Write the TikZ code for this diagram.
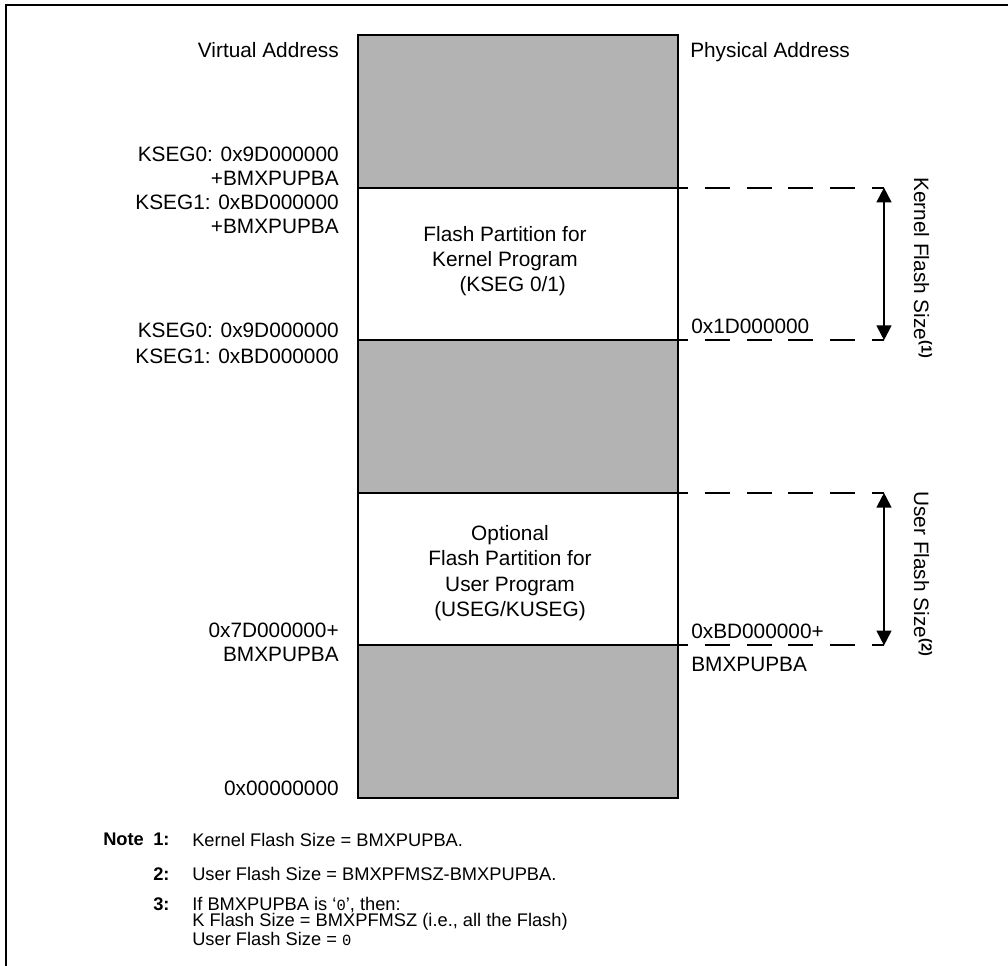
\documentclass[tikz,border=0pt]{standalone}
\usepackage{fontspec}
\setmainfont{Liberation Sans}
\setmonofont{Liberation Mono}
\usetikzlibrary{arrows.meta}
\definecolor{flashgray}{RGB}{179,179,179}
\newcommand{\memL}{358}
\newcommand{\memR}{678}
\newcommand{\rowh}{152.6}

\begin{document}
\begin{tikzpicture}[x=0.025cm, y=-0.025cm, >={Triangle[length=10.5pt,width=10.5pt]},
        every node/.style={inner sep=0pt, font=\fontsize{14.8}{17}\selectfont},
        addr/.style={anchor=north east, align=right},
        paddr/.style={anchor=north west, align=left},
        part/.style={align=center, font=\fontsize{14.8}{18}\selectfont},
        notetext/.style={anchor=north west, align=left, font=\fontsize{13}{11.6}\selectfont},
        notenum/.style={anchor=north west, font=\fontsize{13}{11.6}\bfseries},
        divider/.style={line width=1.4pt},
        guide/.style={line width=1.4pt, dash pattern=on 17.8pt off 11.9pt, dash phase=17.8pt}]
        \useasboundingbox (0,0) rectangle (1008,966);
        % frame
        \draw[line width=1.7pt] (6,966) -- (6,5) -- (1008,5);
        % memory column
        \foreach \i in {0,...,5} {
            \coordinate (L\i) at (\memL, {35+\i*\rowh});
            \coordinate (R\i) at (\memR, {35+\i*\rowh});
        }
        \foreach \i in {0,2,4} {
            \pgfmathtruncatemacro{\j}{\i+1}
            \fill[flashgray] (L\i) rectangle (R\j);
        }
        \draw[divider] (L0) rectangle (R5);
        % dashed lines
        \foreach \i in {1,...,4} {
            \coordinate (E\i) at (688, {35+\i*\rowh});
            \coordinate (D\i) at (884, {35+\i*\rowh});
            \draw[divider] (L\i) -- (E\i);
            \draw[guide] (E\i) -- (D\i);
        }
        \draw[<->, line width=1.4pt] (D1) -- (D2);
        \draw[<->, line width=1.4pt] (D3) -- (D4);
        % partitions
        \node[part] (kpart) at (505,261) {Flash Partition for\\Kernel Program\\\hspace*{11pt}(KSEG 0/1)};
        \node[part] (upart) at (510,573) {Optional\\Flash Partition for\\User Program\\(USEG/KUSEG)};
        % labels
        \node[addr] (virt) at (339,42) {Virtual Address};
        \node[addr] (kstart) at (339,147) {KSEG0: 0x9D000000\\+BMXPUPBA\\KSEG1: 0xBD000000\\+BMXPUPBA};
        \node[addr] (kend0) at (339,323) {KSEG0: 0x9D000000};
        \node[addr] (kend1) at (339,349) {KSEG1: 0xBD000000};
        \node[addr] (ustart) at (339,623) {0x7D000000+\\BMXPUPBA};
        \node[addr] (zero) at (339,781) {0x00000000};
        \node[paddr] (phys) at (690,42) {Physical Address};
        \node[paddr] (kphys) at (691,319) {0x1D000000};
        \node[paddr] (uphys) at (691,624) {0xBD000000+};
        \node[paddr] (uphysb) at (691,657) {BMXPUPBA};
        \node[rotate=-90] (ksize) at (923,268) {Kernel Flash Size\textsuperscript{\textbf{(1)}}};
        \node[rotate=-90] (usize) at (923,574) {User Flash Size\textsuperscript{\textbf{(2)}}};
        % notes
        \node[notenum] (note) at (103,833) {Note};
        \node[notenum] (n1) at (153,833) {1:};
        \node[notetext] (t1) at (192,833) {Kernel Flash Size = BMXPUPBA.};
        \node[notenum] (n2) at (153,867) {2:};
        \node[notetext] (t2) at (192,867) {User Flash Size = BMXPFMSZ-BMXPUPBA.};
        \node[notenum] (n3) at (153,897) {3:};
        \node[notetext] (t3) at (192,897) {If BMXPUPBA is `{\fontsize{11}{11}\ttfamily 0}', then:\\K Flash Size = BMXPFMSZ (i.e., all the Flash)\\User Flash Size = {\fontsize{11}{11}\ttfamily 0}};
    \end{tikzpicture}
\end{document}
